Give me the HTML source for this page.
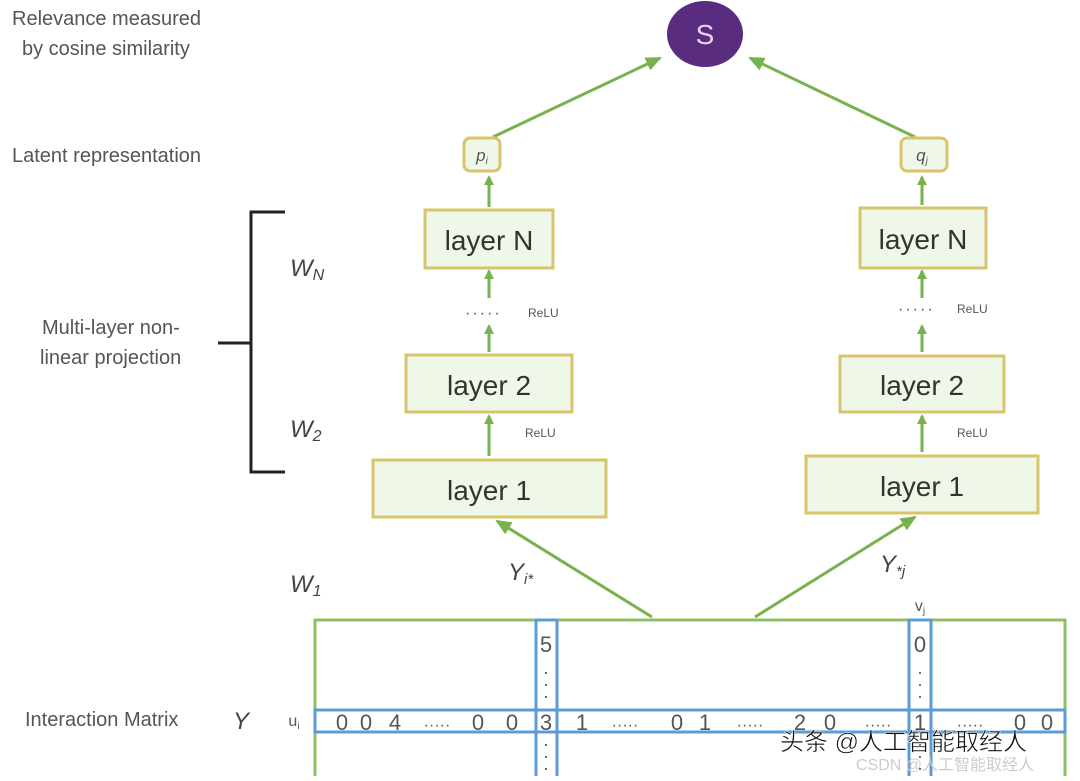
<!DOCTYPE html>
<html><head><style>
html,body{margin:0;padding:0;background:#fff;}
svg text{font-family:"Liberation Sans","Noto Sans CJK SC",sans-serif;}
</style></head><body>
<svg width="1080" height="776" viewBox="0 0 1080 776" xmlns="http://www.w3.org/2000/svg">
<defs>
<marker id="a" markerWidth="10" markerHeight="10" refX="8" refY="5" orient="auto" markerUnits="userSpaceOnUse">
<path d="M0,0 L10,5 L0,10 z" fill="#78b24e"/></marker>
<marker id="b" markerWidth="16" markerHeight="14" refX="14" refY="7" orient="auto" markerUnits="userSpaceOnUse">
<path d="M0,0 L16,7 L0,14 z" fill="#78b24e"/></marker>
</defs>
<g fill="#555" font-size="20">
<text x="12" y="25">Relevance measured</text>
<text x="22" y="55">by cosine similarity</text>
<text x="12" y="162">Latent representation</text>
<text x="42" y="334">Multi-layer non-</text>
<text x="40" y="364">linear projection</text>
<text x="25" y="726" font-size="20">Interaction Matrix</text>
</g>
<g fill="#444" font-style="italic" font-size="24">
<text x="290" y="276">W<tspan font-size="16" dy="4">N</tspan></text>
<text x="290" y="437">W<tspan font-size="16" dy="4">2</tspan></text>
<text x="290" y="592">W<tspan font-size="16" dy="4">1</tspan></text>
<text x="233" y="729">Y</text>
<text x="508" y="580">Y<tspan font-size="15" dy="4">i*</tspan></text>
<text x="880" y="572">Y<tspan font-size="15" dy="4">*j</tspan></text>
</g>
<path d="M285,212 H251 V472 H285 M251,343 H218" fill="none" stroke="#222" stroke-width="3"/>
<ellipse cx="705" cy="34" rx="38" ry="33" fill="#5a2c80"/>
<text x="705" y="44" fill="#e6d3f0" font-size="28" text-anchor="middle">S</text>
<g stroke="#78b24e" stroke-width="3" fill="none">
<line x1="493" y1="137" x2="660" y2="58" marker-end="url(#b)"/>
<line x1="915" y1="137" x2="750" y2="58" marker-end="url(#b)"/>
<line x1="652" y1="617" x2="497" y2="521" marker-end="url(#b)"/>
<line x1="755" y1="617" x2="915" y2="517" marker-end="url(#b)"/>
<line x1="489" y1="207" x2="489" y2="177" marker-end="url(#a)"/>
<line x1="489" y1="298" x2="489" y2="271" marker-end="url(#a)"/>
<line x1="489" y1="352" x2="489" y2="326" marker-end="url(#a)"/>
<line x1="489" y1="456" x2="489" y2="416" marker-end="url(#a)"/>
<line x1="922" y1="205" x2="922" y2="177" marker-end="url(#a)"/>
<line x1="922" y1="298" x2="922" y2="271" marker-end="url(#a)"/>
<line x1="922" y1="352" x2="922" y2="326" marker-end="url(#a)"/>
<line x1="922" y1="452" x2="922" y2="416" marker-end="url(#a)"/>
</g>
<g fill="#eef7e8" stroke="#d8c46a" stroke-width="3">
<rect x="464" y="138" width="36" height="33" rx="6"/>
<rect x="901" y="138" width="46" height="33" rx="6"/>
<rect x="425" y="210" width="128" height="58"/>
<rect x="860" y="208" width="126" height="60"/>
<rect x="406" y="355" width="166" height="57"/>
<rect x="840" y="356" width="164" height="56"/>
<rect x="373" y="460" width="233" height="57"/>
<rect x="806" y="456" width="232" height="57"/>
</g>
<g fill="#333" font-size="28" text-anchor="middle">
<text x="489" y="250">layer N</text>
<text x="923" y="249">layer N</text>
<text x="489" y="395">layer 2</text>
<text x="922" y="395">layer 2</text>
<text x="489" y="500">layer 1</text>
<text x="922" y="496">layer 1</text>
</g>
<text x="482" y="161" fill="#555" font-style="italic" font-size="17" text-anchor="middle">p<tspan font-size="10" dy="3">i</tspan></text>
<text x="922" y="161" fill="#555" font-style="italic" font-size="17" text-anchor="middle">q<tspan font-size="10" dy="3">j</tspan></text>
<g fill="#555" font-size="12">
<text x="465" y="318" font-size="16" letter-spacing="2">·····</text>
<text x="898" y="314" font-size="16" letter-spacing="2">·····</text>
<text x="528" y="317">ReLU</text>
<text x="957" y="313">ReLU</text>
<text x="525" y="437">ReLU</text>
<text x="957" y="437">ReLU</text>
</g>
<rect x="315" y="620" width="750" height="170" fill="none" stroke="#8cc063" stroke-width="3"/>
<g fill="none" stroke="#5b9bd8" stroke-width="3">
<rect x="315" y="710" width="750" height="22"/>
<rect x="536" y="620" width="21" height="170"/>
<rect x="909" y="620" width="22" height="170"/>
</g>
<g fill="#555" font-size="22" text-anchor="middle">
<text x="546" y="652">5</text>
<text x="920" y="652">0</text>
<text x="546" y="678" font-size="18">·</text><text x="546" y="690" font-size="18">·</text><text x="546" y="702" font-size="18">·</text>
<text x="920" y="678" font-size="18">·</text><text x="920" y="690" font-size="18">·</text><text x="920" y="702" font-size="18">·</text>
<text x="546" y="750" font-size="18">·</text><text x="546" y="762" font-size="18">·</text><text x="546" y="774" font-size="18">·</text>
<text x="920" y="750" font-size="18">·</text><text x="920" y="762" font-size="18">·</text><text x="920" y="774" font-size="18">·</text>
<text x="920" y="611" font-size="16">v<tspan font-size="10" dy="3">j</tspan></text>
<text x="294" y="726" font-size="16">u<tspan font-size="10" dy="3">i</tspan></text>
<text x="342" y="730">0</text><text x="366" y="730">0</text><text x="395" y="730">4</text>
<text x="437" y="730" font-size="16">·····</text>
<text x="478" y="730">0</text><text x="512" y="730">0</text><text x="546" y="730">3</text>
<text x="582" y="730">1</text>
<text x="625" y="730" font-size="16">·····</text>
<text x="677" y="730">0</text><text x="705" y="730">1</text>
<text x="750" y="730" font-size="16">·····</text>
<text x="800" y="730">2</text><text x="830" y="730">0</text>
<text x="878" y="730" font-size="16">·····</text>
<text x="920" y="730">1</text>
<text x="970" y="730" font-size="16">·····</text>
<text x="1020" y="730">0</text><text x="1047" y="730">0</text>
</g>
<text x="780" y="750" fill="#111" font-size="24" stroke="#fff" stroke-width="0.5">头条 @人工智能取经人</text>
<text x="856" y="770" fill="#ccc" font-size="16">CSDN @人工智能取经人</text>
</svg>
</body></html>
